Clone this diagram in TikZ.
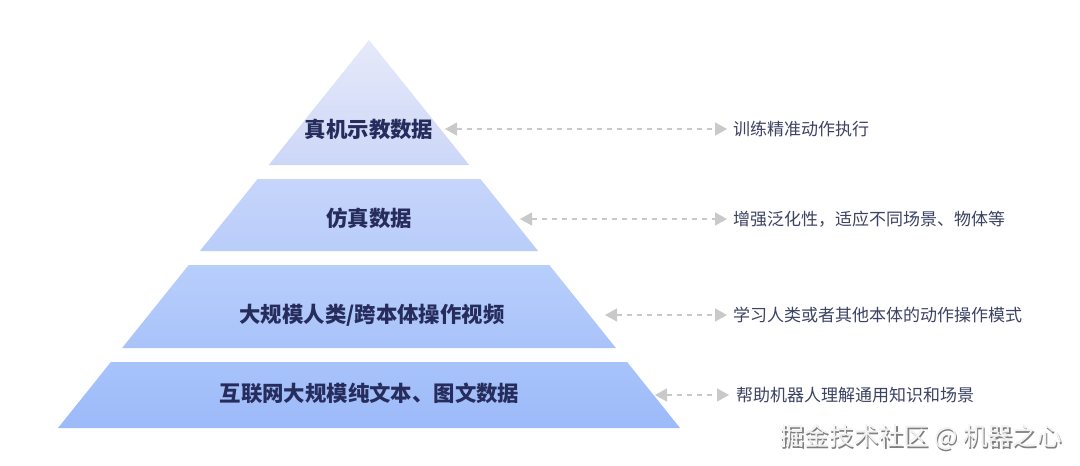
\documentclass[tikz,border=0pt]{standalone}
\usepackage{fontspec}
\setmainfont{Noto Sans CJK SC}
\newfontfamily\cjk{Noto Sans CJK SC}
\usetikzlibrary{arrows.meta}
\definecolor{tAa}{HTML}{E6E9F9}
\definecolor{tAb}{HTML}{CCD7F8}
\definecolor{tBa}{HTML}{C6D5FA}
\definecolor{tBb}{HTML}{B9CDFA}
\definecolor{tCa}{HTML}{B8CEFB}
\definecolor{tCb}{HTML}{A9C3FA}
\definecolor{tDa}{HTML}{A8C3FB}
\definecolor{tDb}{HTML}{9CBAF9}
\definecolor{labelc}{HTML}{262C5C}
\definecolor{descc}{HTML}{3C4262}
\definecolor{arrowc}{HTML}{C9C9C9}
\tikzset{
  tierlabel/.style={font=\cjk\bfseries\fontsize{21.4}{21.4}\selectfont, text=labelc, inner sep=0pt},
  desc/.style={font=\cjk\fontsize{17}{17}\selectfont, text=descc, inner sep=0pt, anchor=west},
  conn/.style={draw=arrowc, line width=1.6pt, dash pattern=on 5pt off 5pt,
    {Triangle[length=12pt,width=13pt,fill=arrowc]}-{Triangle[length=12pt,width=13pt,fill=arrowc]}},
  wm/.style={font=\cjk\fontsize{24.8}{24.8}\selectfont, inner sep=0pt, anchor=west}
}
\begin{document}
\begin{tikzpicture}[x=1pt,y=-1pt]
\useasboundingbox (0,0) rectangle (1080,466);
\fill[white] (0,0) rectangle (1080,466);
% tiers
\shade[top color=tAa,bottom color=tAb] (369,40) -- (469.2,165) -- (268.8,165) -- cycle;
\shade[top color=tBa,bottom color=tBb] (257.6,179) -- (480.4,179) -- (538.1,251) -- (199.9,251) -- cycle;
\shade[top color=tCa,bottom color=tCb] (188.7,265) -- (549.3,265) -- (615.9,348) -- (122.1,348) -- cycle;
\shade[top color=tDa,bottom color=tDb] (110.9,362) -- (627.1,362) -- (680,428) -- (58,428) -- cycle;
% labels
\node[tierlabel] (n1) at (369,129) {真机示教数据};
\node[tierlabel] (n2) at (369,218) {仿真数据};
\node[tierlabel] (n3) at (372,315) {大规模人类/跨本体操作视频};
\node[tierlabel] (n4) at (369.5,393) {互联网大规模纯文本、图文数据};
% descriptions
\node[desc] (d1) at (733,129) {训练精准动作执行};
\node[desc] (d2) at (733,219) {增强泛化性，适应不同场景、物体等};
\node[desc] (d3) at (733,315) {学习人类或者其他本体的动作操作模式};
\node[desc] (d4) at (736,395) {帮助机器人理解通用知识和场景};
% arrow endpoints
\coordinate (l1) at (445,129); \coordinate (r1) at (727,129);
\coordinate (l2) at (520,219); \coordinate (r2) at (727,219);
\coordinate (l3) at (605,315); \coordinate (r3) at (727,315);
\coordinate (l4) at (655,395); \coordinate (r4) at (729,395);
\draw[conn] (l1) -- (r1);
\draw[conn] (l2) -- (r2);
\draw[conn] (l3) -- (r3);
\draw[conn] (l4) -- (r4);
% watermark
\node[wm, text=black!50] (w0) at (780.8,438.8) {掘金技术社区 @ 机器之心};
\node[wm, text=white!95!black] (w1) at (779.5,437.5) {掘金技术社区 @ 机器之心};
\end{tikzpicture}
\end{document}
